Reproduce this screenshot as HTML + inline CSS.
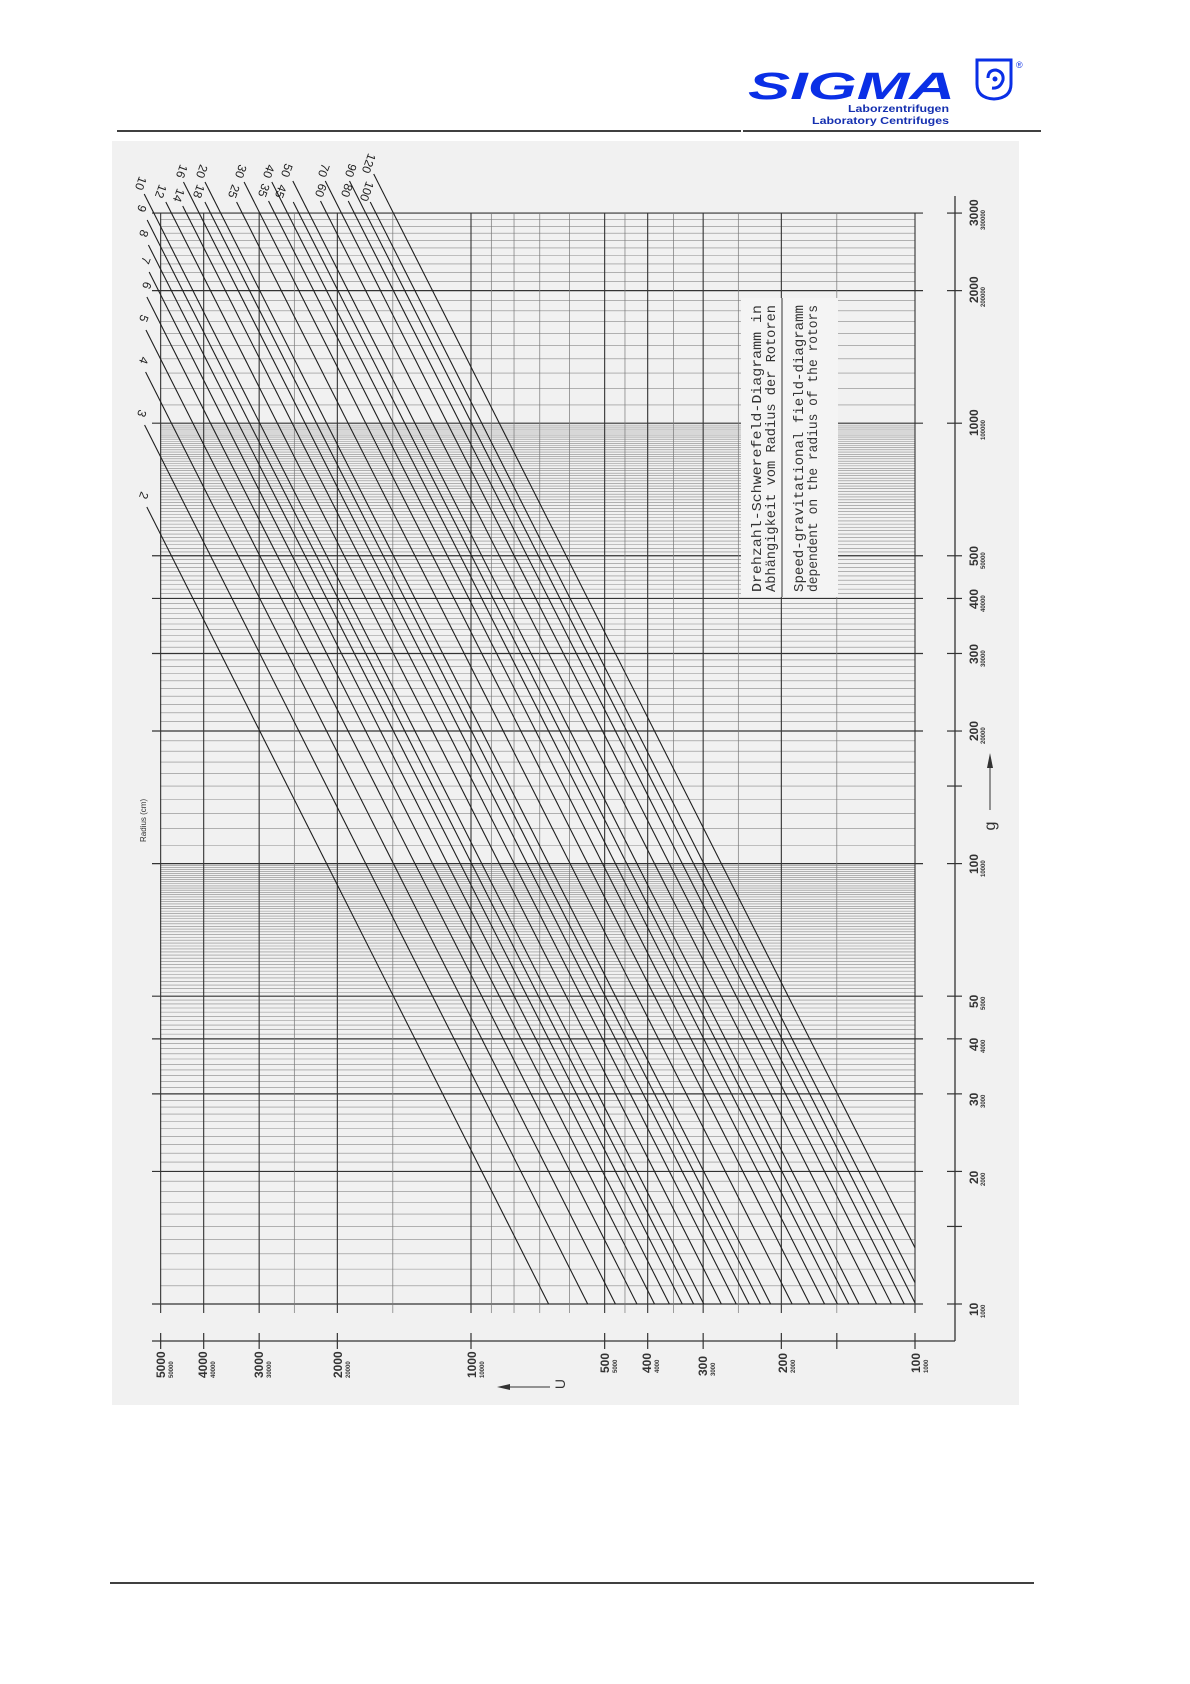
<!DOCTYPE html>
<html><head><meta charset="utf-8">
<style>
html,body{margin:0;padding:0;background:#fff;}
svg{display:block;}
text{font-family:"Liberation Sans",sans-serif;}
</style></head>
<body>
<svg id="s" width="1190" height="1684" viewBox="0 0 1190 1684" xmlns="http://www.w3.org/2000/svg">
<rect x="0" y="0" width="1190" height="1684" fill="#fff"/>
<!-- header -->
<line x1="117" y1="131" x2="741" y2="131" stroke="#000" stroke-width="1.6"/>
<line x1="743" y1="131" x2="1041" y2="131" stroke="#000" stroke-width="1.6"/>
<text x="748" y="99" font-size="38" font-weight="bold" font-style="italic" fill="#0a2fe6" textLength="207" lengthAdjust="spacingAndGlyphs">SIGMA</text>
<text x="848" y="112" font-size="10" font-weight="bold" fill="#1530b0" textLength="101" lengthAdjust="spacingAndGlyphs">Laborzentrifugen</text>
<text x="812" y="124" font-size="10" font-weight="bold" fill="#1530b0" textLength="137" lengthAdjust="spacingAndGlyphs">Laboratory Centrifuges</text>
<path d="M977 60 L1011 60 L1011 84 Q1011 98 994 99 Q977 98 977 84 Z" fill="none" stroke="#0a2fe6" stroke-width="3"/>
<path d="M988 78 Q988 70 996 70 Q1004 72 1003 80 Q1000 89 992 88" fill="none" stroke="#0a2fe6" stroke-width="3"/>
<circle cx="995" cy="79" r="2.5" fill="#0a2fe6"/>
<text x="1016" y="68" font-size="9" fill="#0a2fe6">®</text>
<!-- scan background -->
<rect x="112" y="141" width="907" height="1264" fill="#f1f1f1"/>
<g id="grid"></g>
<!-- text box -->
<rect x="741" y="298" width="97" height="299" fill="#f4f4f4"/>
<line x1="782" y1="298" x2="782" y2="597" stroke="#333" stroke-width="1"/>
<g font-size="14" fill="#333">
<text transform="translate(761,592) rotate(-90)" textLength="287" lengthAdjust="spacingAndGlyphs" style="font-family:'Liberation Mono',monospace">Drehzahl-Schwerefeld-Diagramm in</text>
<text transform="translate(775,592) rotate(-90)" textLength="287" lengthAdjust="spacingAndGlyphs" style="font-family:'Liberation Mono',monospace">Abhängigkeit vom Radius der Rotoren</text>
<text transform="translate(803,592) rotate(-90)" textLength="287" lengthAdjust="spacingAndGlyphs" style="font-family:'Liberation Mono',monospace">Speed-gravitational field-diagramm</text>
<text transform="translate(817,592) rotate(-90)" textLength="287" lengthAdjust="spacingAndGlyphs" style="font-family:'Liberation Mono',monospace">dependent on the radius of the rotors</text>
</g>
<g id="curves"></g>
<!-- axes -->
<line x1="152" y1="1341" x2="955" y2="1341" stroke="#333" stroke-width="1.3"/>
<line x1="955" y1="1341" x2="955" y2="196" stroke="#333" stroke-width="1.3"/>
<g id="ticks"></g>
<!-- bottom labels -->
<g fill="#333" font-weight="bold">
<text transform="translate(165,1378) rotate(-90)" font-size="12">5000</text><text transform="translate(173,1378) rotate(-90)" font-size="6">50000</text>
<text transform="translate(207,1378) rotate(-90)" font-size="12">4000</text><text transform="translate(215,1378) rotate(-90)" font-size="6">40000</text>
<text transform="translate(263,1378) rotate(-90)" font-size="12">3000</text><text transform="translate(271,1378) rotate(-90)" font-size="6">30000</text>
<text transform="translate(342,1378) rotate(-90)" font-size="12">2000</text><text transform="translate(350,1378) rotate(-90)" font-size="6">20000</text>
<text transform="translate(476,1378) rotate(-90)" font-size="12">1000</text><text transform="translate(484,1378) rotate(-90)" font-size="6">10000</text>
<text transform="translate(609,1373) rotate(-90)" font-size="12">500</text><text transform="translate(617,1373) rotate(-90)" font-size="6">5000</text>
<text transform="translate(651,1373) rotate(-90)" font-size="12">400</text><text transform="translate(659,1373) rotate(-90)" font-size="6">4000</text>
<text transform="translate(707,1376) rotate(-90)" font-size="12">300</text><text transform="translate(715,1376) rotate(-90)" font-size="6">3000</text>
<text transform="translate(787,1373) rotate(-90)" font-size="12">200</text><text transform="translate(795,1373) rotate(-90)" font-size="6">2000</text>
<text transform="translate(920,1373) rotate(-90)" font-size="12">100</text><text transform="translate(928,1373) rotate(-90)" font-size="6">1000</text>
</g>
<line x1="500" y1="1387" x2="550" y2="1387" stroke="#333" stroke-width="1"/>
<path d="M497 1387 L510 1384 L510 1390 Z" fill="#333"/>
<text transform="translate(565,1384) rotate(-90)" font-size="14" fill="#333" text-anchor="middle">U</text>
<!-- right labels -->
<g fill="#333" font-weight="bold">
<text transform="translate(978,1316) rotate(-90)" font-size="12">10</text><text transform="translate(985,1318) rotate(-90)" font-size="6">1000</text>
<text transform="translate(978,1184) rotate(-90)" font-size="12">20</text><text transform="translate(985,1186) rotate(-90)" font-size="6">2000</text>
<text transform="translate(978,1106) rotate(-90)" font-size="12">30</text><text transform="translate(985,1108) rotate(-90)" font-size="6">3000</text>
<text transform="translate(978,1051) rotate(-90)" font-size="12">40</text><text transform="translate(985,1053) rotate(-90)" font-size="6">4000</text>
<text transform="translate(978,1008) rotate(-90)" font-size="12">50</text><text transform="translate(985,1010) rotate(-90)" font-size="6">5000</text>
<text transform="translate(978,874) rotate(-90)" font-size="12">100</text><text transform="translate(985,877) rotate(-90)" font-size="6">10000</text>
<text transform="translate(978,741) rotate(-90)" font-size="12">200</text><text transform="translate(985,744) rotate(-90)" font-size="6">20000</text>
<text transform="translate(978,664) rotate(-90)" font-size="12">300</text><text transform="translate(985,667) rotate(-90)" font-size="6">30000</text>
<text transform="translate(978,609) rotate(-90)" font-size="12">400</text><text transform="translate(985,612) rotate(-90)" font-size="6">40000</text>
<text transform="translate(978,566) rotate(-90)" font-size="12">500</text><text transform="translate(985,569) rotate(-90)" font-size="6">50000</text>
<text transform="translate(978,436) rotate(-90)" font-size="12">1000</text><text transform="translate(985,440) rotate(-90)" font-size="6">100000</text>
<text transform="translate(978,303) rotate(-90)" font-size="12">2000</text><text transform="translate(985,307) rotate(-90)" font-size="6">200000</text>
<text transform="translate(978,226) rotate(-90)" font-size="12">3000</text><text transform="translate(985,230) rotate(-90)" font-size="6">300000</text>
</g>
<line x1="990" y1="810" x2="990" y2="765" stroke="#333" stroke-width="1"/>
<path d="M990 753 L987 768 L993 768 Z" fill="#333"/>
<text transform="translate(995,826) rotate(-90)" font-size="16" fill="#333" text-anchor="middle">g</text>
<text transform="translate(146,842) rotate(-90)" font-size="8" fill="#333">Radius (cm)</text>
<!-- radius labels -->
<g fill="#222" font-size="12" text-anchor="middle">
<text transform="translate(137,182) rotate(110)">10</text>
<text transform="translate(138,207) rotate(110)">9</text>
<text transform="translate(140,232) rotate(110)">8</text>
<text transform="translate(142,259) rotate(110)">7</text>
<text transform="translate(143,284) rotate(110)">6</text>
<text transform="translate(140,317) rotate(110)">5</text>
<text transform="translate(140,359) rotate(110)">4</text>
<text transform="translate(138,412) rotate(110)">3</text>
<text transform="translate(140,494) rotate(110)">2</text>
<text transform="translate(157,190) rotate(110)">12</text>
<text transform="translate(175,194) rotate(110)">14</text>
<text transform="translate(178,170) rotate(110)">16</text>
<text transform="translate(195,190) rotate(110)">18</text>
<text transform="translate(198,170) rotate(110)">20</text>
<text transform="translate(230,190) rotate(110)">25</text>
<text transform="translate(237,170) rotate(110)">30</text>
<text transform="translate(260,189) rotate(110)">35</text>
<text transform="translate(265,170) rotate(110)">40</text>
<text transform="translate(277,190) rotate(110)">45</text>
<text transform="translate(283,169) rotate(110)">50</text>
<text transform="translate(317,189) rotate(110)">60</text>
<text transform="translate(320,169) rotate(110)">70</text>
<text transform="translate(343,189) rotate(110)">80</text>
<text transform="translate(347,169) rotate(110)">90</text>
<text transform="translate(363,190) rotate(110)">100</text>
<text transform="translate(365,162) rotate(110)">120</text>
</g>
<!-- footer -->
<line x1="110" y1="1583" x2="1034" y2="1583" stroke="#000" stroke-width="1.4"/>
</svg>
<script>
(function(){
var NS="http://www.w3.org/2000/svg";
function L(p,x1,y1,x2,y2,c,w){var e=document.createElementNS(NS,"line");e.setAttribute("x1",x1);e.setAttribute("y1",y1);e.setAttribute("x2",x2);e.setAttribute("y2",y2);e.setAttribute("stroke",c);e.setAttribute("stroke-width",w);p.appendChild(e);}
function X(U){return 915-444*Math.log10(U/100);}
function Y(g){return 1304-440.4*Math.log10(g/10);}
var grid=document.getElementById("grid");
var major={10:1,20:1,30:1,40:1,50:1,100:1,200:1,300:1,400:1,500:1,1000:1,2000:1,3000:1};
var gs=[];
for(var g=10;g<100;g++)gs.push(g);
for(var g=100;g<1000;g+=10)gs.push(g);
for(var g=1000;g<=3000;g+=100)gs.push(g);
gs.forEach(function(g){var y=Y(g);if(major[g])L(grid,152,y,923,y,"#333",1.2);else L(grid,160,y,915,y,"#8a8a8a",0.6);});
var us=[5000,4000,3000,2500,2000,1500,1000,900,800,700,600,500,450,400,350,300,250,200,150,100];
var mj={5000:1,4000:1,3000:1,2000:1,1000:1,500:1,400:1,300:1,200:1,100:1};
us.forEach(function(u){var x=X(u);L(grid,x,213,x,1313,mj[u]?"#333":"#777",mj[u]?1.1:0.7);});
var t=document.getElementById("ticks");
[5000,4000,3000,2000,1000,500,400,300,200,150,100].forEach(function(u){var x=X(u);L(t,x,1333,x,1349,"#333",1.2);});
[10,15,20,30,40,50,100,150,200,300,400,500,1000,2000,3000].forEach(function(g){var y=Y(g);L(t,947,y,962,y,"#333",1.2);});
var c=document.getElementById("curves");
var labs=[[2,503],[3,421],[4,368],[5,326],[6,293],[7,268],[8,241],[9,216],[10,190],[12,198],[14,202],[16,178],[18,198],[20,178],[25,198],[30,178],[35,197],[40,178],[45,198],[50,177],[60,197],[70,177],[80,197],[90,177],[100,198],[120,170]];
labs.forEach(function(a){
 var r=a[0],yt=a[1]+4;
 var k=Math.log10(1.118e-5*r);
 function xy(y){var lg=1+(1304-y)/440.4;var u=(lg-k)/2;return 915-444*(u-2);}
 var x1=xy(yt);
 var y2=1304,x2=xy(y2);
 if(x2>915){x2=915;var u=2;var lg=k+2*u;y2=1304-440.4*(lg-1);}
 L(c,x1,yt,x2,y2,"#1e1e1e",1.1);
});
})();
</script>
</body></html>
